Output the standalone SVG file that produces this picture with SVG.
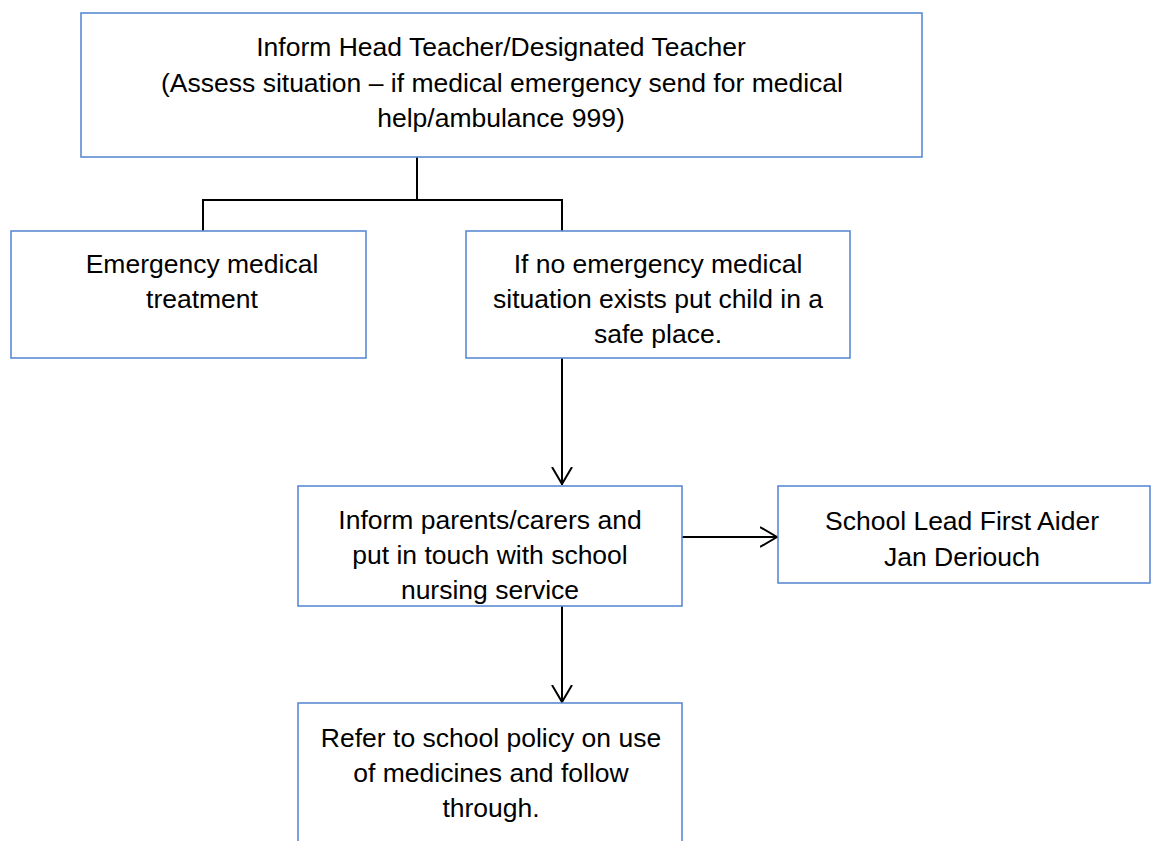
<svg xmlns="http://www.w3.org/2000/svg" width="1151" height="841" viewBox="0 0 1151 841">
<style>
.box{fill:#ffffff;stroke:#5b8bd2;stroke-width:1.6}
.t{font-family:"Liberation Sans",Arial,sans-serif;font-size:26.5px;fill:#000;text-anchor:middle}
.c{fill:none;stroke:#000;stroke-width:2}
</style>
<defs>
<marker id="ah" viewBox="0 0 18 22" refX="18" refY="11" markerWidth="18" markerHeight="22" markerUnits="userSpaceOnUse" orient="auto">
<path d="M0,1 L17,11 L0,21" fill="none" stroke="#000" stroke-width="2"/>
</marker>
</defs>
<rect width="1151" height="841" fill="#fff"/>
<g id="connectors">
<path class="c" d="M417,157 V200 M203,231 V200 H562 V231"/>
<path class="c" d="M562,358 V485" marker-end="url(#ah)"/>
<path class="c" d="M682,537 H778" marker-end="url(#ah)"/>
<path class="c" d="M562,606 V703" marker-end="url(#ah)"/>
</g>
<g id="n1">
<rect class="box" x="81" y="13" width="841" height="144"/>
<text class="t" x="501" y="56">Inform Head Teacher/Designated Teacher</text>
<text class="t" x="502" y="92">(Assess situation – if medical emergency send for medical</text>
<text class="t" x="501" y="127">help/ambulance 999)</text>
</g>
<g id="n2">
<rect class="box" x="11" y="231" width="355" height="127"/>
<text class="t" x="202" y="273">Emergency medical</text>
<text class="t" x="202" y="308">treatment</text>
</g>
<g id="n3">
<rect class="box" x="466" y="231" width="384" height="127"/>
<text class="t" x="658" y="273">If no emergency medical</text>
<text class="t" x="658" y="308">situation exists put child in a</text>
<text class="t" x="658" y="343">safe place.</text>
</g>
<g id="n4">
<rect class="box" x="298" y="486" width="384" height="120"/>
<text class="t" x="490" y="529">Inform parents/carers and</text>
<text class="t" x="490" y="564">put in touch with school</text>
<text class="t" x="490" y="599">nursing service</text>
</g>
<g id="n5">
<rect class="box" x="778" y="486" width="372" height="97"/>
<text class="t" x="962" y="530">School Lead First Aider</text>
<text class="t" x="962" y="566">Jan Deriouch</text>
</g>
<g id="n6">
<rect class="box" x="298" y="703" width="384" height="160"/>
<text class="t" x="491" y="747">Refer to school policy on use</text>
<text class="t" x="491" y="782">of medicines and follow</text>
<text class="t" x="491" y="817">through.</text>
</g>
</svg>
